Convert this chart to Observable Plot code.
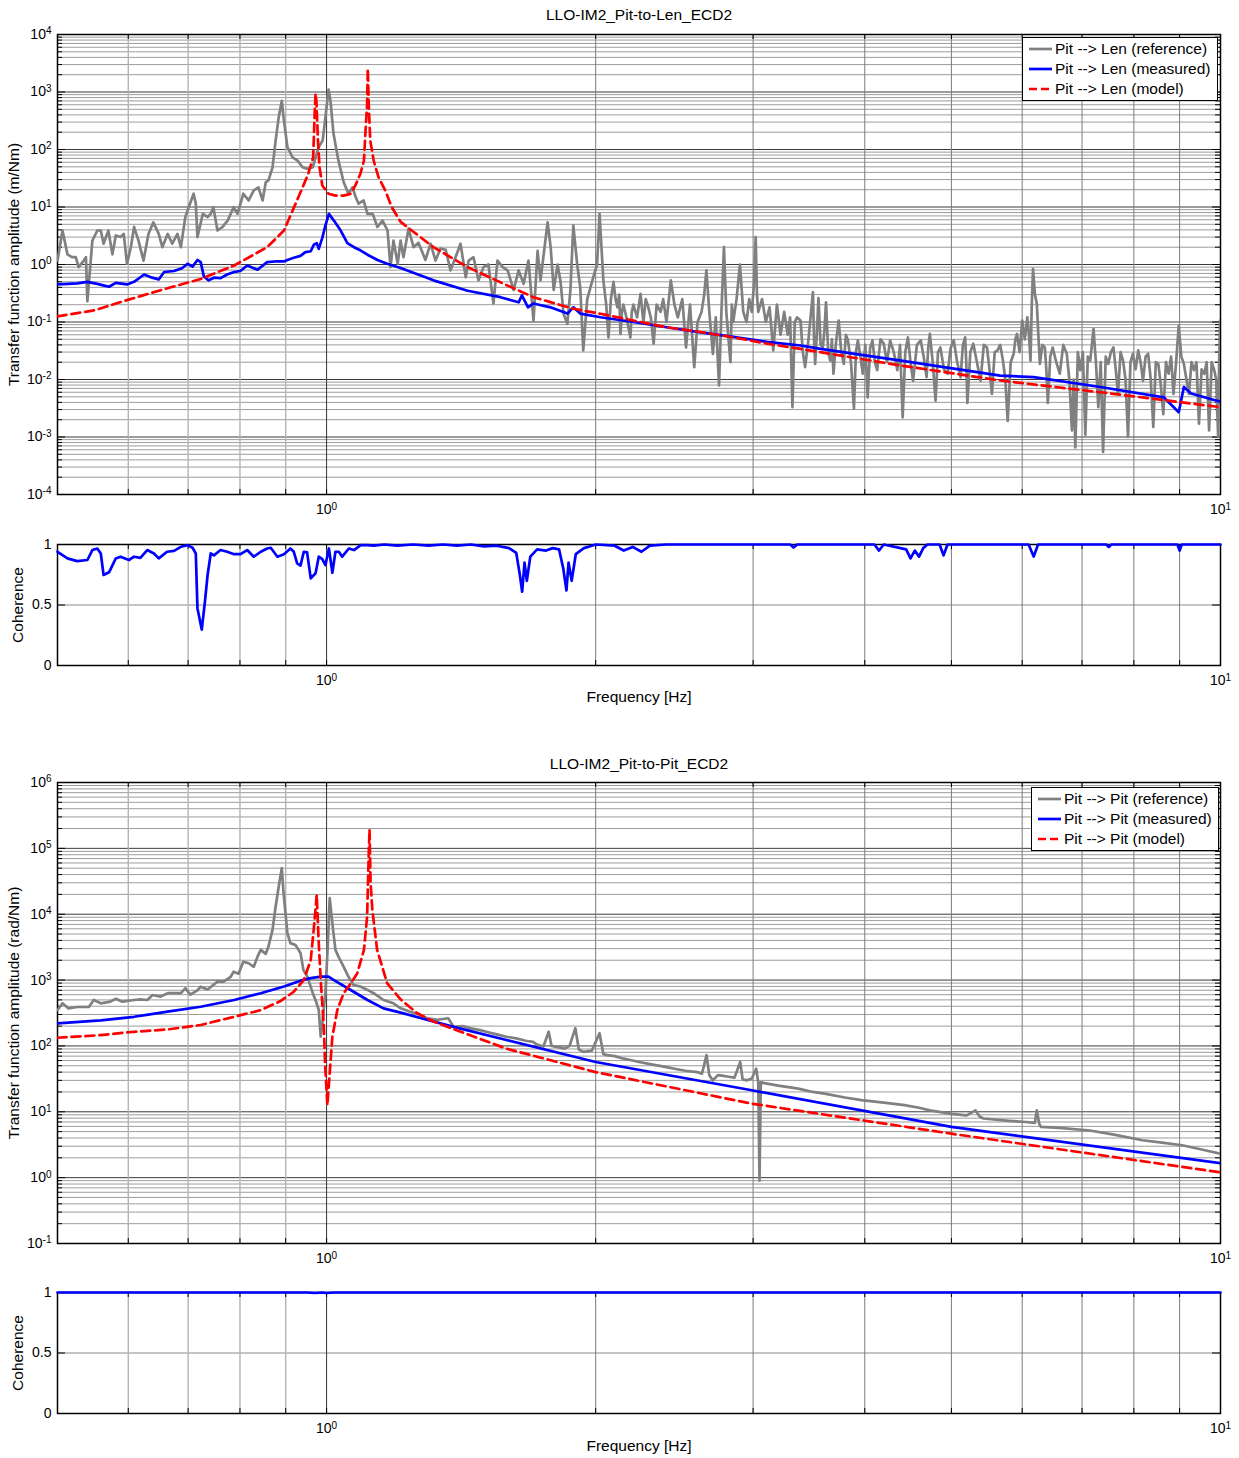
<!DOCTYPE html>
<html><head><meta charset="utf-8">
<script src="https://cdn.jsdelivr.net/npm/d3@7"></script>
<script src="https://cdn.jsdelivr.net/npm/@observablehq/plot@0.6"></script>
<style>
body{margin:0;background:#fff;font-family:"Liberation Sans",Arial,Helvetica,sans-serif;}
#root{position:relative;width:1239px;height:1458px;overflow:hidden;background:#fff;}
.panel{position:absolute;left:0;}
.legend{position:absolute;background:#fff;border:1px solid #000;font-size:15.5px;line-height:20px;padding:1px 6px 1px 6px;box-sizing:border-box;color:#000}
.legend .row{display:flex;align-items:center;white-space:nowrap;height:20px}
.legend svg{margin-right:3px;flex:none}
</style></head>
<body><div id="root"></div>
<script>
// ---------- titles / labels ----------
const titleLen = "LLO-IM2_Pit-to-Len_ECD2";
const titlePit = "LLO-IM2_Pit-to-Pit_ECD2";
const yLabelLen = "Transfer function amplitude (m/Nm)";
const yLabelPit = "Transfer function amplitude (rad/Nm)";
const yLabelCoh = "Coherence";
const xLabel = "Frequency [Hz]";
const legendLen = ["Pit --> Len (reference)", "Pit --> Len (measured)", "Pit --> Len (model)"];
const legendPit = ["Pit --> Pit (reference)", "Pit --> Pit (measured)", "Pit --> Pit (model)"];

// ---------- tick values ----------
const xMajorTicks = [1, 10];
const xMinorLow = [0.6, 0.7, 0.8, 0.9];
const xMinorHigh = [2, 3, 4, 5, 6, 7, 8, 9];
const cohTicks = [0, 0.5, 1];

// ---------- Pit -> Len : [frequency Hz, amplitude m/Nm] ----------
const lenReference = [
[0.5,1.17],[0.5065,3.9],[0.513,1.5],[0.519,1.34],[0.524,1.34],[0.528,0.9],[0.535,1.17],[0.538,1.34],[0.540,0.23],
[0.547,2.6],[0.554,3.9],[0.559,3.9],[0.563,2.3],[0.570,3.9],[0.576,1.5],[0.581,3.2],[0.588,3.0],[0.593,3.4],[0.598,1.03],
[0.604,2.0],[0.609,4.5],[0.616,2.6],[0.624,1.17],[0.632,3.4],[0.640,5.4],[0.649,3.4],[0.655,2.0],[0.664,3.4],[0.672,2.3],
[0.681,3.4],[0.687,2.0],[0.695,6.7],[0.701,9.9],[0.710,17],[0.714,11.4],[0.717,3.0],[0.727,7.6],[0.736,6.7],[0.742,7.6],
[0.747,9.9],[0.755,3.9],[0.765,4.5],[0.775,5.8],[0.787,9.9],[0.795,7.6],[0.807,17],[0.818,13],[0.829,19.4],[0.839,22],
[0.848,13],[0.855,27],[0.861,29],[0.870,49],[0.877,144],[0.884,365],[0.891,700],[0.895,365],[0.904,110],[0.916,73],
[0.928,64],[0.940,49],[0.952,46],[0.965,49],[0.972,73],[0.980,110],[0.990,144],[0.997,365],[1.005,1100],[1.010,711],
[1.018,187],[1.031,64],[1.045,27],[1.058,17],[1.069,22],[1.078,14.8],[1.086,11.4],[1.100,13],[1.111,7.6],[1.126,7.6],
[1.140,4.5],[1.155,5.8],[1.170,3.9],[1.179,0.9],[1.188,2.6],[1.201,1.03],
[1.21,2.6],[1.219,1.34],[1.235,4.2],[1.251,2.0],[1.267,2.4],[1.29,1.2],[1.307,2.3],[1.324,1.17],[1.341,1.9],[1.359,1.8],
[1.376,0.79],[1.394,1.34],[1.412,2.3],[1.431,0.6],[1.442,1.17],[1.46,1.34],[1.479,0.53],[1.498,0.9],[1.517,1.0],[1.537,0.21],
[1.553,1.17],[1.574,0.9],[1.594,0.79],[1.619,0.36],[1.64,0.79],[1.661,0.46],[1.682,1.17],[1.704,0.106],[1.722,1.72],[1.735,0.53],
[1.767,5.4],[1.781,2.0],[1.795,0.36],[1.813,1.0],[1.827,0.5],[1.841,0.139],[1.859,0.093],[1.874,0.36],[1.888,4.8],[1.907,1.0],
[1.922,0.4],[1.937,0.032],[1.957,0.25],[1.983,0.53],[2.007,1.0],[2.02,7.6],[2.04,0.53],[2.055,0.2],[2.067,0.054],[2.08,0.25],
[2.094,0.5],[2.105,0.25],[2.115,0.18],[2.125,0.3],[2.132,0.062],[2.14,0.15],[2.148,0.2],[2.165,0.12],[2.187,0.054],[2.195,0.15],
[2.204,0.2],[2.225,0.12],[2.245,0.31],[2.255,0.15],[2.262,0.1],[2.275,0.25],[2.286,0.2],[2.305,0.12],[2.322,0.042],[2.34,0.2],
[2.364,0.15],[2.38,0.25],[2.40,0.1],[2.427,0.53],[2.45,0.2],[2.471,0.12],[2.50,0.25],[2.524,0.036],[2.55,0.2],[2.578,0.0164],
[2.60,0.1],[2.627,0.15],[2.645,0.3],[2.66,0.79],[2.68,0.15],[2.705,0.028],[2.725,0.12],[2.748,0.0079],[2.765,0.15],[2.783,2.0],
[2.80,0.15],[2.83,0.02],[2.84,0.2],[2.85,0.1],[2.875,0.25],[2.90,1.0],[2.925,0.15],[2.95,0.1],[2.97,0.25],[2.99,0.15],[3.005,0.4],
[3.02,3.0],[3.03,0.3],[3.04,0.15],[3.07,0.25],[3.10,0.1],[3.13,0.18],[3.16,0.032],[3.19,0.2],[3.22,0.06],[3.25,0.15],[3.28,0.06],
[3.30,0.12],[3.32,0.0033],[3.34,0.1],[3.36,0.12],
[3.39,0.106],[3.41,0.03],[3.43,0.0164],[3.46,0.05],[3.50,0.33],[3.51,0.05],[3.52,0.0187],[3.535,0.06],[3.55,0.26],[3.57,0.04],
[3.59,0.036],[3.605,0.07],[3.62,0.22],[3.64,0.03],[3.66,0.0213],[3.675,0.05],[3.69,0.0126],[3.715,0.045],[3.74,0.106],[3.765,0.03],
[3.79,0.0187],[3.81,0.06],[3.83,0.048],[3.86,0.02],[3.89,0.0031],[3.91,0.03],[3.93,0.048],[3.955,0.025],[3.98,0.0126],[4.005,0.04],
[4.03,0.0049],[4.055,0.035],[4.08,0.048],[4.105,0.02],[4.13,0.0145],[4.165,0.05],[4.20,0.042],[4.235,0.02],[4.27,0.048],[4.31,0.03],
[4.35,0.0145],[4.38,0.04],[4.41,0.0022],[4.44,0.03],[4.47,0.054],[4.50,0.02],[4.53,0.0095],[4.575,0.04],[4.62,0.048],[4.655,0.025],
[4.69,0.011],[4.71,0.035],[4.73,0.062],[4.765,0.02],[4.80,0.0043],[4.83,0.03],[4.86,0.036],[4.905,0.015],[4.95,0.0126],[4.99,0.035],
[5.03,0.048],[5.075,0.02],[5.12,0.011],[5.15,0.04],[5.18,0.054],[5.195,0.02],[5.21,0.0039],[5.25,0.03],[5.29,0.042],[5.34,0.02],
[5.39,0.0095],[5.435,0.04],[5.48,0.036],[5.515,0.015],[5.55,0.0056],[5.59,0.03],[5.63,0.032],[5.67,0.04],[5.71,0.0213],[5.745,0.01],
[5.78,0.0019],[5.825,0.02],[5.87,0.028],[5.895,0.05],[5.92,0.062],[5.96,0.03],[6.00,0.106],[6.04,0.05],[6.08,0.12],[6.105,0.06],
[6.13,0.0213],[6.15,0.2],[6.17,0.84],[6.2,0.3],[6.23,0.21],[6.255,0.06],[6.28,0.0187],[6.32,0.04],[6.36,0.036],[6.385,0.015],
[6.41,0.0039],[6.45,0.025],[6.49,0.036],[6.55,0.02],[6.61,0.0126],[6.67,0.04],[6.73,0.028],[6.775,0.01],[6.82,0.0013],[6.85,0.01],
[6.88,0.00066],[6.925,0.03],[6.97,0.0145],[7.015,0.03],[7.06,0.0011],[7.105,0.025],[7.15,0.0213],[7.18,0.04],[7.21,0.076],[7.255,0.02],
[7.30,0.0033],[7.345,0.02],[7.39,0.00055],[7.44,0.025],[7.49,0.0187],[7.54,0.03],[7.59,0.036],[7.635,0.015],[7.68,0.0056],[7.73,0.03],
[7.78,0.0213],[7.83,0.01],[7.88,0.001],[7.93,0.02],[7.98,0.028],[8.035,0.015],[8.09,0.032],[8.14,0.02],[8.19,0.0095],[8.245,0.025],
[8.30,0.028],[8.355,0.01],[8.41,0.0015],[8.465,0.02],[8.52,0.0187],[8.575,0.008],[8.63,0.0025],[8.69,0.02],[8.75,0.0126],[8.805,0.025],
[8.86,0.0056],[8.92,0.02],[8.98,0.087],[9.04,0.025],[9.10,0.0187],[9.16,0.01],[9.22,0.0056],[9.28,0.02],[9.34,0.0145],[9.40,0.02],
[9.46,0.0017],[9.525,0.015],[9.59,0.0126],[9.65,0.02],[9.71,0.0013],[9.775,0.02],[9.84,0.0145],[9.89,0.01],[9.94,0.001],[9.965,0.02],
[9.99,0.106]
];
const lenMeasured = [
[0.50,0.45],[0.513,0.46],[0.526,0.47],[0.540,0.5],[0.554,0.46],[0.564,0.43],[0.571,0.41],[0.581,0.48],[0.598,0.45],[0.609,0.5],
[0.625,0.67],[0.638,0.59],[0.649,0.55],[0.658,0.74],[0.675,0.77],[0.689,0.86],[0.699,1.03],[0.708,0.92],[0.717,1.2],[0.723,1.1],
[0.729,0.62],[0.738,0.53],[0.748,0.59],[0.761,0.58],[0.774,0.67],[0.788,0.74],[0.801,0.77],[0.815,0.96],[0.829,0.86],[0.837,0.81],
[0.858,1.1],[0.881,1.14],[0.896,1.13],[0.904,1.2],[0.919,1.31],[0.935,1.41],[0.947,1.64],[0.960,1.70],[0.968,2.23],[0.975,2.35],
[0.980,1.87],[0.989,2.9],[0.997,4.8],[1.006,7.6],[1.019,5.8],[1.037,3.9],[1.055,2.35],[1.073,2.0],[1.092,1.75],[1.111,1.48],
[1.140,1.2],[1.169,1.03],[1.21,0.87],[1.317,0.53],[1.438,0.35],[1.565,0.27],[1.64,0.22],[1.654,0.29],[1.68,0.18],[1.704,0.21],
[1.78,0.18],[1.86,0.14],[1.888,0.18],[1.922,0.14],[2.025,0.121],[2.204,0.1],[2.40,0.081],[2.62,0.066],[2.85,0.055],[3.11,0.045],
[3.39,0.039],[3.57,0.034],[4.39,0.0213],[5.67,0.0117],[6.18,0.011],[7.34,0.0074],[8.64,0.0049],[8.98,0.0027],[9.10,0.0074],
[9.27,0.0057],[10,0.0041]
];
const lenModel = [
[0.5,0.125],[0.55,0.16],[0.598,0.24],[0.649,0.35],[0.723,0.56],[0.788,0.96],[0.858,2.0],[0.896,3.9],[0.935,18],[0.954,38],
[0.966,73],[0.970,476],[0.972,933],[0.974,711],[0.978,144],[0.982,49],[0.989,23.7],[1.005,17],[1.023,15.8],[1.045,15.8],
[1.064,17],[1.077,23.7],[1.091,38],[1.101,64],[1.105,187],[1.110,600],[1.112,2530],[1.115,545],[1.119,144],[1.129,64],
[1.143,33],[1.163,19.4],[1.183,9.9],[1.21,5.5],[1.317,2.0],[1.438,0.9],[1.565,0.49],[1.704,0.27],[1.888,0.17],[2.025,0.139],
[2.204,0.106],[2.40,0.081],[2.62,0.067],[2.85,0.054],[3.11,0.042],[3.39,0.034],[4.39,0.0175],[5.67,0.0096],[7.34,0.006],
[8.95,0.0041],[10,0.0033]
];
const lenCoherence = [
[0.5,0.94],[0.513,0.885],[0.526,0.863],[0.540,0.872],[0.547,0.954],[0.554,0.967],[0.559,0.926],[0.563,0.748],[0.571,0.77],
[0.581,0.885],[0.588,0.899],[0.601,0.872],[0.609,0.899],[0.619,0.89],[0.63,0.954],[0.641,0.926],[0.649,0.885],[0.663,0.94],
[0.675,0.948],[0.687,0.981],[0.699,0.995],[0.708,0.973],[0.714,0.926],[0.717,0.474],[0.725,0.297],[0.731,0.529],[0.736,0.748],
[0.742,0.926],[0.748,0.91],[0.761,0.954],[0.774,0.94],[0.788,0.92],[0.801,0.92],[0.815,0.954],[0.829,0.899],[0.844,0.94],
[0.858,0.967],[0.866,0.973],[0.881,0.899],[0.896,0.92],[0.911,0.967],[0.919,0.94],[0.927,0.844],[0.935,0.826],[0.943,0.94],
[0.951,0.935],[0.960,0.72],[0.972,0.762],[0.980,0.899],[0.989,0.88],[0.997,0.83],[1.006,0.967],[1.015,0.767],[1.023,0.94],
[1.032,0.94],[1.041,0.899],[1.059,0.967],[1.073,0.954],[1.092,0.995],[1.111,0.995],[1.13,0.99],[1.16,1.0],[1.2,0.99],[1.25,1.0],
[1.3,0.99],[1.35,1.0],[1.4,0.99],[1.45,1.0],[1.5,0.985],[1.55,0.99],[1.6,0.97],[1.63,0.93],[1.645,0.75],[1.655,0.61],[1.665,0.85],
[1.675,0.7],[1.69,0.9],[1.72,0.96],[1.76,0.95],[1.79,0.97],[1.82,0.96],[1.84,0.8],[1.855,0.62],[1.865,0.85],[1.88,0.7],[1.9,0.92],
[1.94,0.97],[1.98,0.99],[2.0,1.0],[2.1,0.99],[2.15,0.95],[2.2,0.98],[2.25,0.94],[2.3,0.99],[2.4,1.0],[3.3,1.0],[3.33,0.975],
[3.36,1.0],[4.1,1.0],[4.15,0.95],[4.2,1.0],[4.45,0.96],[4.5,0.885],[4.55,0.95],[4.6,0.9],[4.65,0.97],[4.7,1.0],[4.85,1.0],
[4.9,0.91],[4.95,1.0],[6.1,1.0],[6.18,0.9],[6.25,1.0],[7.45,1.0],[7.5,0.98],[7.55,1.0],[8.95,1.0],[9.0,0.95],[9.05,1.0],[10,1.0]
];

// ---------- Pit -> Pit : [frequency Hz, amplitude rad/Nm] ----------
const pitReference = [
[0.5,351],[0.5065,444],[0.514,372],[0.526,390],[0.542,390],[0.549,498],[0.559,444],[0.573,470],[0.581,520],[0.591,470],
[0.609,498],[0.619,510],[0.630,498],[0.639,593],[0.652,560],[0.664,632],[0.687,632],[0.695,750],[0.704,600],[0.717,700],
[0.723,794],[0.736,720],[0.755,946],[0.767,946],[0.781,1120],[0.787,1340],[0.797,1250],[0.807,1900],[0.818,1800],[0.829,1590],
[0.837,2270],[0.844,2870],[0.855,2500],[0.861,3240],[0.870,5780],[0.877,13100],[0.884,26400],[0.891,50000],[0.895,21000],
[0.904,5150],[0.911,3640],[0.923,3400],[0.935,2580],[0.942,1420],[0.952,1120],[0.965,632],[0.972,498],[0.980,351],[0.985,138],
[0.990,250],[0.997,632],[1.003,3240],[1.008,17600],[1.016,6440],[1.023,2870],[1.031,2270],[1.045,1590],[1.058,1120],[1.072,841],
[1.092,794],[1.111,710],[1.129,632],[1.158,498],[1.188,444],[1.21,372],[1.24,330],[1.27,300],[1.295,263],[1.33,250],[1.368,263],
[1.387,195],[1.42,200],[1.45,185],[1.485,174],[1.52,160],[1.55,150],[1.589,138],[1.63,130],[1.67,120],[1.702,115],[1.72,105],
[1.748,98],[1.772,164],[1.785,100],[1.797,98],[1.82,95],[1.847,91],[1.87,100],[1.898,186],[1.915,88],[1.94,81],[1.98,85],
[2.02,156],[2.04,75],[2.06,72.6],[2.1,70],[2.15,64],[2.2,60],[2.237,57],[2.3,53],[2.393,48],[2.45,45],[2.52,42],[2.598,40],
[2.63,38],[2.661,72.6],[2.68,36],[2.705,30],[2.74,36],[2.78,35],[2.817,34],[2.86,33],[2.902,57],[2.92,31],[2.954,30],[2.99,32],
[3.024,45],[3.04,28],[3.05,0.9],[3.06,28],[3.1,27],[3.2,25],[3.3,23.5],[3.37,22.5],[3.5,20],[3.606,18.9],[3.8,16.5],[3.966,15],
[4.2,13.8],[4.43,12.6],[4.6,11.5],[4.73,10.5],[5.0,9.3],[5.2,8.8],[5.32,10.5],[5.38,8.4],[5.43,7.9],[5.8,7.3],[6.06,7.0],
[6.2,6.8],[6.23,10.5],[6.27,6.5],[6.3,5.9],[6.6,5.7],[7.14,5.2],[7.6,4.5],[8.18,3.7],[8.6,3.4],[9.06,3.1],[9.5,2.7],[10,2.3]
];
const pitMeasured = [
[0.5,220],[0.559,245],[0.609,277],[0.664,331],[0.723,394],[0.788,498],[0.844,632],[0.896,800],[0.935,980],[0.96,1070],
[0.985,1125],[1.005,1125],[1.019,1000],[1.064,707],[1.111,498],[1.158,372],[1.21,320],[1.387,195],[1.589,123],[2.0,57],
[2.99,21.2],[5.0,5.9],[10,1.66]
];
const pitModel = [
[0.5,133],[0.559,146],[0.609,164],[0.664,178],[0.723,208],[0.788,277],[0.844,350],[0.888,480],[0.919,665],[0.943,1000],
[0.960,2020],[0.968,6440],[0.975,19700],[0.980,3640],[0.986,800],[0.993,195],[0.996,55],[1.002,12.6],[1.015,138],[1.028,350],
[1.045,632],[1.064,890],[1.082,1260],[1.101,2870],[1.110,9200],[1.115,96000],[1.117,193000],[1.120,30000],[1.125,11700],
[1.139,2870],[1.169,890],[1.21,510],[1.263,313],[1.317,235],[1.387,180],[1.589,91],[2.0,40],[2.99,13.3],[5.0,4.65],[10,1.2]
];
const pitCoherence = [
[0.5,1],[0.95,1],[0.97,0.996],[0.99,1],[1.0,0.996],[1.02,1],[10,1]
];

// ---------- styling ----------
const W = 1239, ML = 57, MR = 19;
const FONT = '"Liberation Sans", Arial, Helvetica, sans-serif';
const GRAY = "#808080", BLUE = "#0000ff", RED = "#ff0000";

function decades(lo, hi) {
  const major = [], minor = [];
  for (let e = lo; e <= hi; e++) {
    major.push(+(10 ** e).toPrecision(6));
    if (e < hi) for (let k = 2; k <= 9; k++) minor.push(+(k * 10 ** e).toPrecision(6));
  }
  return {major, minor};
}
const expFmt = d => "10^" + Math.round(Math.log10(d));

function panel(o) {
  const fw = W - ML - MR, fh = o.height - o.mt - o.mb;
  const m = [];
  if (o.yMinor) m.push(Plot.ruleY(o.yMinor, {stroke: "#9c9c9c", strokeWidth: 1}));
  m.push(Plot.ruleY(o.yGrid, {stroke: o.log ? "#3a3a3a" : "#8a8a8a", strokeWidth: 1}));
  m.push(Plot.ruleX(xMinorLow, {stroke: "#b4b4b4", strokeWidth: 1.4}));
  m.push(Plot.ruleX(xMinorHigh, {stroke: "#7c7c7c", strokeWidth: 1}));
  m.push(Plot.ruleX(xMajorTicks, {stroke: "#333", strokeWidth: 1}));
  // inward tick marks
  const xt = [...xMinorLow, ...xMinorHigh, ...xMajorTicks];
  m.push(Plot.tickX(xt, {x: d => d, stroke: "#000", insetTop: fh - 5}));
  m.push(Plot.tickX(xt, {x: d => d, stroke: "#000", insetBottom: fh - 5}));
  if (o.yMinor) {
    m.push(Plot.tickY(o.yMinor, {y: d => d, stroke: "#000", insetRight: fw - 5}));
    m.push(Plot.tickY(o.yMinor, {y: d => d, stroke: "#000", insetLeft: fw - 5}));
  }
  m.push(Plot.tickY(o.yTicks, {y: d => d, stroke: "#000", insetRight: fw - 8}));
  m.push(Plot.tickY(o.yTicks, {y: d => d, stroke: "#000", insetLeft: fw - 8}));
  m.push(Plot.frame({stroke: "#000", strokeWidth: 1.5}));
  for (const s of o.series) {
    m.push(Plot.line(s.data, {x: d => d[0], y: d => d[1], stroke: s.color, strokeWidth: 2.7,
      strokeDasharray: s.dash, strokeLinejoin: "round", clip: o.log}));
  }
  m.push(Plot.axisY(o.yTicks, {tickSize: 0, tickPadding: 6, tickFormat: o.yFmt, label: null, fontSize: 14}));
  m.push(Plot.axisX(xMajorTicks, {tickSize: 0, tickPadding: 10, tickFormat: expFmt, label: null, fontSize: 14}));
  const txt = {text: d => d, fontSize: 15.5, textAnchor: "middle", lineAnchor: "middle"};
  if (o.title) m.push(Plot.text([o.title], {...txt, frameAnchor: "top", dy: o.titleDy}));
  m.push(Plot.text([o.ylabel], {...txt, frameAnchor: "left", rotate: -90, dx: o.ylabelDx}));
  if (o.xlabel) m.push(Plot.text([o.xlabel], {...txt, frameAnchor: "bottom", dy: o.xlabelDy}));
  const svg = Plot.plot({
    width: W, height: o.height, marginLeft: ML, marginRight: MR, marginTop: o.mt, marginBottom: o.mb,
    style: {fontFamily: FONT, fontSize: "14px", color: "#000", background: "#fff", overflow: "visible"},
    x: {type: "log", domain: [0.5, 10]},
    y: {type: o.log ? "log" : "linear", domain: o.yDomain},
    marks: m
  });
  // superscript exponents
  svg.querySelectorAll("text").forEach(t => {
    const mm = /^10\^(-?\d+)$/.exec(t.textContent);
    if (mm) {
      t.textContent = "10";
      const ts = document.createElementNS("http://www.w3.org/2000/svg", "tspan");
      ts.setAttribute("dy", "-0.45em");
      ts.setAttribute("font-size", "10px");
      ts.textContent = mm[1];
      t.appendChild(ts);
    }
  });
  svg.classList.add("panel");
  svg.style.top = o.top + "px";
  return svg;
}

function legend(left, top, labels) {
  const div = document.createElement("div");
  div.className = "legend";
  div.style.left = left + "px";
  div.style.top = top + "px";
  const styles = [{c: GRAY, d: null}, {c: BLUE, d: null}, {c: RED, d: "8,4"}];
  labels.forEach((lab, i) => {
    const row = document.createElement("div");
    row.className = "row";
    row.innerHTML = `<svg width="23" height="6"><line x1="0" y1="3" x2="23" y2="3" stroke="${styles[i].c}" stroke-width="2.7" ${styles[i].d ? `stroke-dasharray="${styles[i].d}"` : ""}/></svg><span>${lab.replace(/>/g, "&gt;")}</span>`;
    div.appendChild(row);
  });
  return div;
}

const root = document.getElementById("root");
const dLen = decades(-4, 4), dPit = decades(-1, 6);

root.appendChild(panel({
  top: 0, height: 520, mt: 34, mb: 26, log: true, yDomain: [1e-4, 1e4],
  yTicks: dLen.major, yMinor: dLen.minor, yGrid: dLen.major, yFmt: expFmt,
  series: [{data: lenReference, color: GRAY}, {data: lenMeasured, color: BLUE}, {data: lenModel, color: RED, dash: "9,5"}],
  title: titleLen, titleDy: -19, ylabel: yLabelLen, ylabelDx: -43
}));
root.appendChild(panel({
  top: 520, height: 200, mt: 24, mb: 55, log: false, yDomain: [0, 1],
  yTicks: cohTicks, yGrid: [0.5], yFmt: d => String(d),
  series: [{data: lenCoherence, color: BLUE}],
  ylabel: yLabelCoh, ylabelDx: -39, xlabel: xLabel, xlabelDy: 32
}));
root.appendChild(panel({
  top: 730, height: 540, mt: 52, mb: 27, log: true, yDomain: [0.1, 1e6],
  yTicks: dPit.major, yMinor: dPit.minor, yGrid: dPit.major, yFmt: expFmt,
  series: [{data: pitReference, color: GRAY}, {data: pitMeasured, color: BLUE}, {data: pitModel, color: RED, dash: "9,5"}],
  title: titlePit, titleDy: -18, ylabel: yLabelPit, ylabelDx: -43
}));
root.appendChild(panel({
  top: 1270, height: 188, mt: 22, mb: 45, log: false, yDomain: [0, 1],
  yTicks: cohTicks, yGrid: [0.5], yFmt: d => String(d),
  series: [{data: pitCoherence, color: BLUE}],
  ylabel: yLabelCoh, ylabelDx: -39, xlabel: xLabel, xlabelDy: 33
}));
root.appendChild(legend(1022, 37, legendLen));
root.appendChild(legend(1031, 787, legendPit));
</script></body></html>
